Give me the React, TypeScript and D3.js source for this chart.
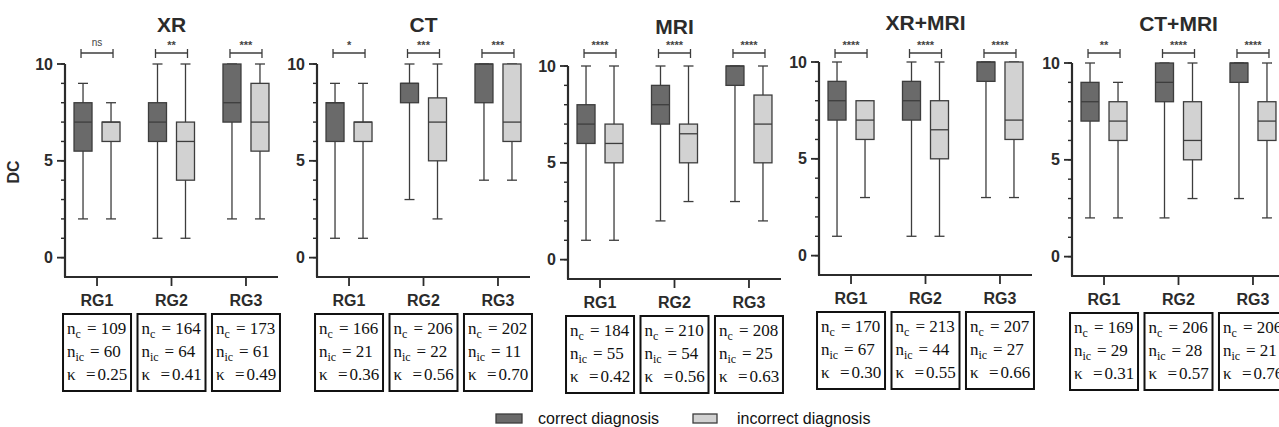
import * as d3 from "d3";

const modalities = ["XR", "CT", "MRI", "XR+MRI", "CT+MRI"];
const groups = ["RG1", "RG2", "RG3"];

// box stats: [min, q1, median, q3, max]
const correctStats = [
  [[2, 5.5, 7, 8, 9], [1, 6, 7, 8, 10], [2, 7, 8, 10, 10]],
  [[1, 6, 8, 8, 9], [3, 8, 9, 9, 10], [4, 8, 10, 10, 10]],
  [[1, 6, 7, 8, 10], [2, 7, 8, 9, 10], [3, 9, 10, 10, 10]],
  [[1, 7, 8, 9, 10], [1, 7, 8, 9, 10], [3, 9, 10, 10, 10]],
  [[2, 7, 8, 9, 10], [2, 8, 9, 10, 10], [3, 9, 10, 10, 10]],
];
const incorrectStats = [
  [[2, 6, 7, 7, 8], [1, 4, 6, 7, 10], [2, 5.5, 7, 9, 10]],
  [[1, 6, 7, 7, 9], [2, 5, 7, 8.25, 10], [4, 6, 7, 10, 10]],
  [[1, 5, 6, 7, 10], [3, 5, 6.5, 7, 10], [2, 5, 7, 8.5, 10]],
  [[3, 6, 7, 8, 8], [1, 5, 6.5, 8, 10], [3, 6, 7, 10, 10]],
  [[2, 6, 7, 8, 9], [3, 5, 6, 8, 10], [2, 6, 7, 8, 10]],
];
const significance = [
  ["ns", "**", "***"],
  ["*", "***", "***"],
  ["****", "****", "****"],
  ["****", "****", "****"],
  ["**", "****", "****"],
];
const nCorrect = [
  [109, 164, 173],
  [166, 206, 202],
  [184, 210, 208],
  [170, 213, 207],
  [169, 206, 206],
];
const nIncorrect = [
  [60, 64, 61],
  [21, 22, 11],
  [55, 54, 25],
  [67, 44, 27],
  [29, 28, 21],
];
const kappas = [
  ["0.25", "0.41", "0.49"],
  ["0.36", "0.56", "0.70"],
  ["0.42", "0.56", "0.63"],
  ["0.30", "0.55", "0.66"],
  ["0.31", "0.57", "0.76"],
];
const majorTicks = [0, 5, 10];
const minorTicks = d3.range(0, 11);
const legendItems = ["correct diagnosis", "incorrect diagnosis"];

const W = 1279;
const H = 427;
const panelX = [65, 317, 568, 819, 1072];
const panelDy = [0, 0, 2, -2, -1];
const axisLen = 213;
const darkFill = "#6a6a6a";
const lightFill = "#d2d2d2";
const ink = "#2b2b2b";
const line = "#3d3d3d";
const sans = "'Liberation Sans', Arial, sans-serif";
const serif = "'Liberation Serif', 'Times New Roman', serif";

function Box({ cx, s, y, fill }: { cx: number; s: number[]; y: d3.ScaleLinear<number, number>; fill: string }) {
  const bw = 18;
  const cap = 10;
  const [mn, q1, md, q3, mx] = s;
  return (
    <g>
      <line x1={cx} x2={cx} y1={y(mx)} y2={y(mn)} stroke={line} strokeWidth={1.3} />
      <line x1={cx - cap / 2} x2={cx + cap / 2} y1={y(mx)} y2={y(mx)} stroke={line} strokeWidth={1.3} />
      <line x1={cx - cap / 2} x2={cx + cap / 2} y1={y(mn)} y2={y(mn)} stroke={line} strokeWidth={1.3} />
      <rect x={cx - bw / 2} y={y(q3)} width={bw} height={y(q1) - y(q3)} fill={fill} stroke={line} strokeWidth={1.3} />
      <line x1={cx - bw / 2} x2={cx + bw / 2} y1={y(md)} y2={y(md)} stroke={line} strokeWidth={1.3} />
    </g>
  );
}

function Panel({ i }: { i: number }) {
  const x0 = panelX[i];
  const dy = panelDy[i];
  const y = d3.scaleLinear().domain([-1, 10]).range([277 + dy, 64 + dy]);
  const x = d3.scalePoint<string>().domain(groups).range([x0, x0 + axisLen]).padding(0.43);
  const off = 14;
  const boxTop = 314 + dy;
  const boxW = 68;
  const boxH = 77;
  return (
    <g>
      <text x={x("RG2")} y={32 + dy} textAnchor="middle" fontFamily={sans} fontWeight="bold" fontSize={21} fill={ink}>
        {modalities[i]}
      </text>
      {/* y axis */}
      <line x1={x0} x2={x0} y1={y(10)} y2={y(-1)} stroke={ink} strokeWidth={2.2} />
      {minorTicks.map((t) => (
        <line key={"m" + t} x1={x0 - 4} x2={x0} y1={y(t)} y2={y(t)} stroke={ink} strokeWidth={1.4} />
      ))}
      {majorTicks.map((t) => (
        <g key={"t" + t}>
          <line x1={x0 - 8} x2={x0} y1={y(t)} y2={y(t)} stroke={ink} strokeWidth={1.8} />
          <text x={x0 - 12} y={y(t)} dy="0.35em" textAnchor="end" fontFamily={sans} fontWeight="bold" fontSize={16} fill={ink}>
            {t}
          </text>
        </g>
      ))}
      {/* x axis */}
      <line x1={x0 - 1} x2={x0 + axisLen} y1={y(-1)} y2={y(-1)} stroke={ink} strokeWidth={2.2} />
      {groups.map((g, j) => {
        const cx = x(g) as number;
        const bl = cx - boxW / 2;
        const rows = [
          { sub: "c", val: String(nCorrect[i][j]), eq: 24 },
          { sub: "ic", val: String(nIncorrect[i][j]), eq: 27 },
        ];
        return (
          <g key={g}>
            <line x1={cx} x2={cx} y1={y(-1)} y2={y(-1) + 9} stroke={ink} strokeWidth={1.8} />
            <text x={cx} y={306 + dy} textAnchor="middle" fontFamily={sans} fontWeight="bold" fontSize={16} fill={ink}>
              {g}
            </text>
            {/* significance bracket */}
            <line x1={cx - 16} x2={cx + 16} y1={53} y2={53} stroke={line} strokeWidth={1.3} />
            <line x1={cx - 16} x2={cx - 16} y1={49} y2={58} stroke={line} strokeWidth={1.3} />
            <line x1={cx + 16} x2={cx + 16} y1={49} y2={58} stroke={line} strokeWidth={1.3} />
            <text
              x={cx}
              y={significance[i][j] === "ns" ? 46 : 49}
              textAnchor="middle"
              fontFamily={sans}
              fontWeight={significance[i][j] === "ns" ? "normal" : "bold"}
              fontSize={significance[i][j] === "ns" ? 10 : 11}
              fill="#444"
            >
              {significance[i][j]}
            </text>
            <Box cx={cx - off} s={correctStats[i][j]} y={y} fill={darkFill} />
            <Box cx={cx + off} s={incorrectStats[i][j]} y={y} fill={lightFill} />
            {/* n / kappa box */}
            <rect x={bl} y={boxTop} width={boxW} height={boxH} fill="white" stroke="#111" strokeWidth={2} />
            {rows.map((r, k) => (
              <g key={k}>
                <text x={bl + 4} y={boxTop + 20 + k * 23} fontFamily={serif} fontSize={17} fill="#111">
                  n
                  <tspan dy={4} fontSize={12}>
                    {r.sub}
                  </tspan>
                </text>
                <text x={bl + r.eq} y={boxTop + 20 + k * 23} fontFamily={serif} fontSize={17} fill="#111">
                  {"= " + r.val}
                </text>
              </g>
            ))}
            <text x={bl + 4} y={boxTop + 66} fontFamily={serif} fontSize={17} fill="#111">
              κ
            </text>
            <text x={bl + 23} y={boxTop + 66} fontFamily={serif} fontSize={17} fill="#111">
              {"="}
              <tspan dx={2}>{kappas[i][j]}</tspan>
            </text>
          </g>
        );
      })}
    </g>
  );
}

export default function App() {
  return (
    <svg width={W} height={H} style={{ position: "absolute", left: 0, top: 0, background: "white" }}>
      <text
        transform="translate(19,172) rotate(-90)"
        textAnchor="middle"
        fontFamily={sans}
        fontWeight="bold"
        fontSize={16}
        fill={ink}
      >
        DC
      </text>
      {modalities.map((m, i) => (
        <Panel key={m} i={i} />
      ))}
      {/* legend */}
      <rect x={496} y={414} width={26} height={9} fill={darkFill} stroke={line} strokeWidth={1.3} />
      <text x={538} y={424} fontFamily={sans} fontSize={16} fill="#111">
        {legendItems[0]}
      </text>
      <rect x={693} y={414} width={24} height={9} fill={lightFill} stroke={line} strokeWidth={1.3} />
      <text x={737} y={424} fontFamily={sans} fontSize={16} fill="#111">
        {legendItems[1]}
      </text>
    </svg>
  );
}
